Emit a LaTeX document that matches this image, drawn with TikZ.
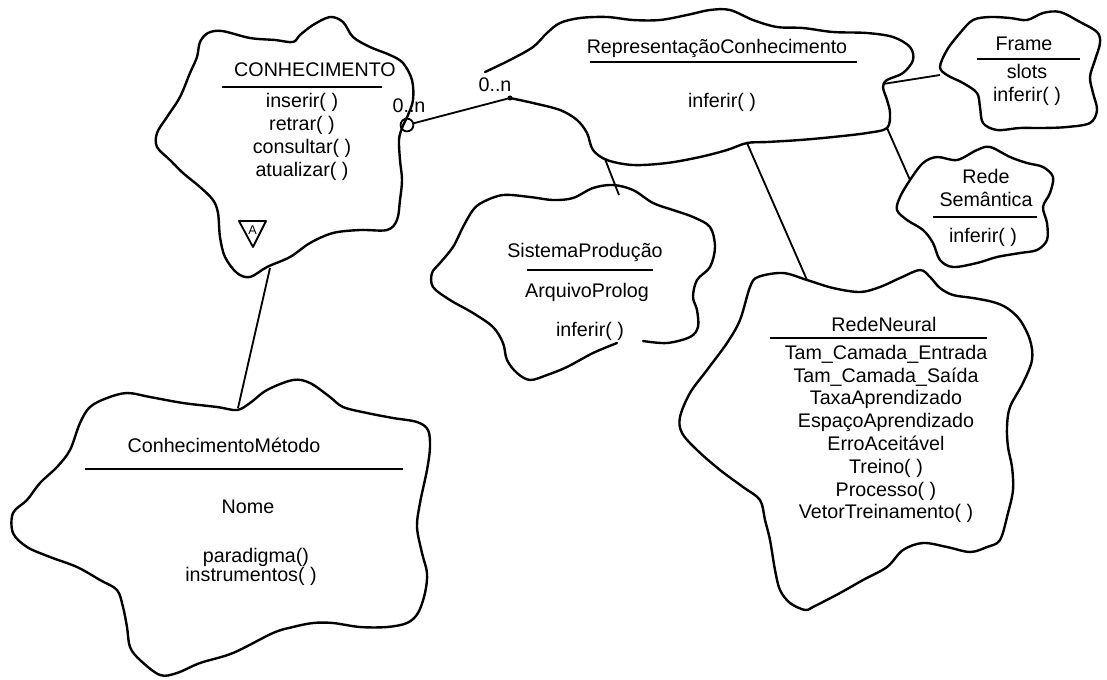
\documentclass[tikz,border=0pt]{standalone}
\usepackage{fontspec}
\setmainfont{Liberation Sans}

\begin{document}
\begin{tikzpicture}[x=0.025cm, y=-0.025cm,
        cloud/.style={line width=1.7pt, line join=round, line cap=round},
        link/.style={line width=1.3pt},
        sepline/.style={line width=1pt},
        lbl/.style={font=\fontsize{14}{16.2}\selectfont, inner sep=0pt, align=center},
        hasmark/.style={circle, draw, line width=1.3pt, minimum size=0.32cm, inner sep=0pt}]
        \useasboundingbox (0,0) rectangle (1107,679);

        % CONHECIMENTO
        \draw[cloud] plot[smooth cycle, tension=0.55] coordinates {(200,42) (208,33) (222,31) (250,38) (275,40) (293,42) (300,35) (313,25) (330,17) (343,22) (353,37) (370,47) (390,55) (403,63) (412,80) (413,100) (408,115) (402,128) (399,140) (400,160) (402,180) (400,200) (397,220) (387,230) (360,230) (333,233) (310,243) (290,257) (267,267) (250,277) (237,273) (225,257) (220,237) (218,213) (213,200) (200,187) (183,173) (170,160) (157,147) (157,133) (167,117) (180,97) (190,73) (197,57)};
        \node[lbl] (cnhName) at (315,70) {CONHECIMENTO};
        \draw[sepline] (222,87) -- (382,87);
        \node[lbl] (cnhOps) at (302,137) {inserir( )\\retrar( )\\consultar( )\\atualizar( )};
        \draw[line width=1.3pt, line join=round] (239,221) -- (266,221) -- (253,247) -- cycle;
        \node[font=\fontsize{9}{10}\selectfont, inner sep=0pt] (cnhAbs) at (252.5,230) {A};
        \coordinate (cnhB) at (270,268);

        % RepresentacaoConhecimento
        \draw[cloud] plot[smooth, tension=0.55] coordinates {(510,98) (533,103) (560,110) (577,120) (587,133) (593,150) (607,160) (633,165) (667,163) (700,157) (727,150) (747,143) (767,142) (800,140) (833,137) (867,133) (887,128) (890,113) (887,100) (883,87) (887,80) (903,73) (913,60) (910,47) (893,37) (867,33) (833,32) (803,28) (777,27) (753,20) (730,10) (710,10) (687,15) (660,20) (633,20) (607,17) (580,18) (560,23) (547,33) (533,47) (510,60) (485,72)};
        \node[lbl] (repName) at (717,48) {RepresentaçãoConhecimento};
        \draw[sepline] (590,62) -- (857,62);
        \node[lbl] (repOps) at (722,102) {inferir( )};
        \coordinate (repL) at (510,98);
        \coordinate (repB1) at (605,159);
        \coordinate (repB2) at (747,143);
        \coordinate (repR1) at (883,84);
        \coordinate (repR2) at (887,128);

        % Frame
        \draw[cloud] plot[smooth cycle, tension=0.55] coordinates {(940,67) (947,50) (960,33) (973,20) (990,17) (1010,18) (1027,20) (1043,13) (1060,12) (1080,22) (1097,32) (1100,43) (1095,60) (1090,77) (1093,93) (1097,110) (1090,123) (1067,127) (1043,128) (1020,128) (997,130) (983,123) (980,107) (977,93) (963,83) (947,75)};
        \node[lbl] (frmName) at (1024,44) {Frame};
        \draw[sepline] (977,59) -- (1080,59);
        \node[lbl] (frmOps) at (1027,85) {slots\\inferir( )};
        \coordinate (frmL) at (940,75);

        % Rede Semantica
        \draw[cloud] plot[smooth cycle, tension=0.55] coordinates {(910,180) (923,163) (937,157) (957,160) (977,150) (990,147) (1010,157) (1027,163) (1043,167) (1053,177) (1050,193) (1043,207) (1047,223) (1047,240) (1037,250) (1020,253) (997,257) (977,263) (953,267) (940,260) (933,243) (923,230) (907,220) (897,210) (900,197)};
        \node[lbl] (semName) at (986,188) {Rede\\Semântica};
        \draw[sepline] (933,217) -- (1037,217);
        \node[lbl] (semOps) at (983,237) {inferir( )};
        \coordinate (semL) at (910,180);

        % SistemaProducao
        \draw[cloud] plot[smooth, tension=0.55] coordinates {(617,343) (593,353) (567,367) (547,375) (530,380) (517,373) (507,360) (503,343) (493,327) (473,313) (450,300) (433,287) (432,273) (440,263) (453,247) (463,227) (473,210) (483,202) (503,195) (530,197) (553,200) (573,198) (593,188) (613,185) (633,190) (653,203) (673,210) (693,217) (710,227) (715,247) (710,267) (697,280) (693,297) (697,310) (698,327) (690,337) (667,343) (643,341)};
        \node[lbl] (sisName) at (585,252) {SistemaProdução};
        \draw[sepline] (527,270) -- (653,270);
        \node[lbl] (sisAttr) at (587,292) {ArquivoProlog};
        \node[lbl] (sisOps) at (590,331) {inferir( )};
        \coordinate (sisT) at (619,195);

        % RedeNeural
        \draw[cloud] plot[smooth cycle, tension=0.55] coordinates {(750,287) (758,277) (783,273) (807,280) (833,288) (860,292) (880,287) (900,278) (920,270) (930,277) (940,288) (953,295) (973,298) (993,302) (1007,308) (1020,320) (1030,340) (1032,360) (1023,383) (1010,407) (1007,427) (1008,447) (1012,467) (1013,490) (1008,513) (1000,540) (987,547) (970,552) (947,547) (923,543) (903,550) (887,567) (863,580) (840,593) (813,607) (805,610) (790,603) (780,590) (775,570) (770,540) (765,520) (760,500) (743,487) (720,470) (697,450) (682,433) (680,417) (690,393) (707,370) (727,343) (740,320)};
        \node[lbl] (neuName) at (884,324) {RedeNeural};
        \draw[sepline] (770,338) -- (987,338);
        \node[lbl] (neuAttr) at (886,434) {Tam\_Camada\_Entrada\\Tam\_Camada\_Saída\\TaxaAprendizado\\EspaçoAprendizado\\ErroAceitável\\Treino( )\\Processo( )\\VetorTreinamento( )};
        \coordinate (neuT) at (807,280);

        % ConhecimentoMetodo
        \draw[cloud] plot[smooth cycle, tension=0.55] coordinates {(90,407) (107,398) (127,393) (150,397) (183,403) (217,407) (237,410) (250,403) (267,390) (293,380) (310,383) (330,397) (343,407) (367,413) (393,418) (417,422) (428,430) (430,447) (427,470) (420,503) (417,527) (422,553) (427,573) (425,593) (418,613) (407,623) (387,627) (360,627) (333,623) (313,623) (293,627) (273,633) (233,653) (200,663) (177,673) (160,675) (140,660) (130,647) (127,627) (123,607) (117,590) (100,580) (77,567) (50,557) (27,547) (13,533) (13,513) (27,500) (40,483) (57,467) (70,450) (80,423)};
        \node[lbl] (metName) at (224,445) {ConhecimentoMétodo};
        \draw[sepline] (85,469) -- (403,469);
        \node[lbl] (metAttr) at (248,507) {Nome};
        \node[lbl] (metOp1) at (256,557) {paradigma()};
        \node[lbl] (metOp2) at (251,576) {instrumentos( )};
        \coordinate (metT) at (238,408);

        % connectors
        \node[hasmark] (cnhHas) at (407,125) {};
        \draw[link] (cnhHas) -- (repL);
        \fill (repL) circle (1.8pt);
        \node[lbl] (mulCnh) at (409,106) {0..n};
        \node[lbl] (mulRep) at (495,85) {0..n};
        \draw[link] (repB1) -- (sisT);
        \draw[link] (repB2) -- (neuT);
        \draw[link] (repR1) -- (frmL);
        \draw[link] (repR2) -- (semL);
        \draw[link] (cnhB) -- (metT);
    \end{tikzpicture}
\end{document}
